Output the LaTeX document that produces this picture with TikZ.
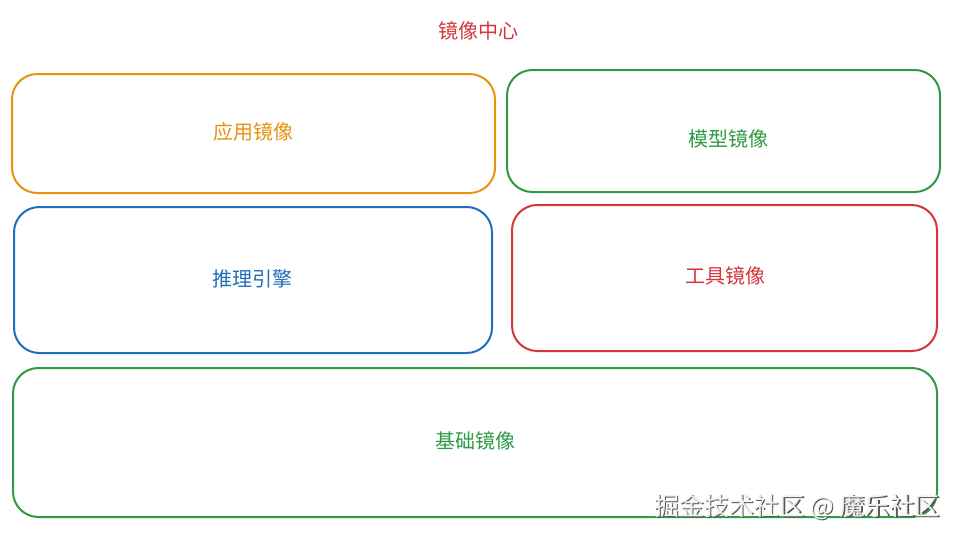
\documentclass[tikz,border=0pt]{standalone}
\usepackage{fontspec}
\setmainfont{Noto Sans CJK SC}
\definecolor{corange}{HTML}{E8920E}
\definecolor{cgreen}{HTML}{2E9A44}
\definecolor{cblue}{HTML}{1E6FBE}
\definecolor{cred}{HTML}{D4363A}
\definecolor{wmfill}{HTML}{F2F2F2}
\definecolor{wmshadow}{HTML}{555555}
\begin{document}
\begin{tikzpicture}[x=0.75pt,y=-0.75pt,
  box/.style={draw=#1,line width=1.5pt,rounded corners=19pt,inner sep=0pt},
  lbl/.style={text=#1,font=\fontsize{15pt}{18pt}\selectfont,inner sep=0pt},
  wm/.style={font=\fontsize{18.8pt}{22pt}\selectfont,inner sep=0pt}]
\useasboundingbox[fill=white] (0,0) rectangle (957,539);
\node[lbl=cred] (title) at (478,31) {镜像中心};
\node[box=corange,minimum width=483*0.75pt,minimum height=119*0.75pt] (app) at (253.5,133.5) {};
\node[lbl=corange] (applbl) at (253,132) {应用镜像};
\node[box=cgreen,minimum width=433*0.75pt,minimum height=122*0.75pt] (model) at (723.5,131) {};
\node[lbl=cgreen] (modellbl) at (728,139) {模型镜像};
\node[box=cblue,minimum width=478*0.75pt,minimum height=146*0.75pt] (infer) at (253,280) {};
\node[lbl=cblue] (inferlbl) at (252,279) {推理引擎};
\node[box=cred,minimum width=425*0.75pt,minimum height=146*0.75pt] (tool) at (724.5,278) {};
\node[lbl=cred] (toollbl) at (725,276) {工具镜像};
\node[box=cgreen,minimum width=924*0.75pt,minimum height=149*0.75pt] (base) at (475,442.5) {};
\node[lbl=cgreen] (baselbl) at (475,441) {基础镜像};
\node[wm,text=wmshadow] (wmshadow) at (798.5,508.5) {掘金技术社区 @ 魔乐社区};
\node[wm,text=wmfill] (wmtext) at (797,507) {掘金技术社区 @ 魔乐社区};
\end{tikzpicture}
\end{document}
